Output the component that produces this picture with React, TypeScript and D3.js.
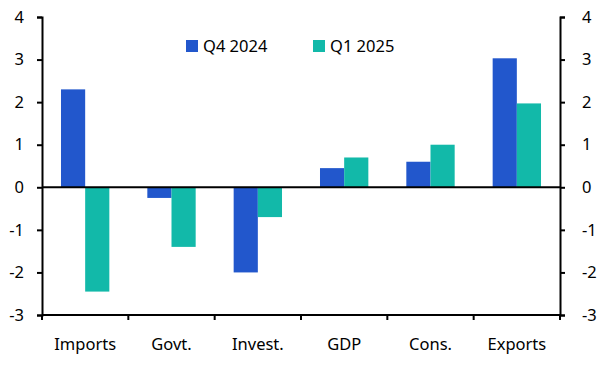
import React, { useEffect, useRef } from "react";
import * as d3 from "d3";

const categories = ["Imports", "Govt.", "Invest.", "GDP", "Cons.", "Exports"];
const seriesNames = ["Q4 2024", "Q1 2025"];
const q4_2024 = [2.3, -0.25, -2.0, 0.45, 0.6, 3.03];
const q1_2025 = [-2.45, -1.4, -0.7, 0.7, 1.0, 1.97];
const yTicks = [-3, -2, -1, 0, 1, 2, 3, 4];
const colors = ["#2257CC", "#12B9A9"];

const W = 609;
const H = 370;
const FONT = "'Noto Sans', sans-serif";

export default function App() {
  const ref = useRef<SVGSVGElement>(null);

  useEffect(() => {
    const svg = d3.select(ref.current);
    svg.selectAll("*").remove();

    const left = 42, right = 560, top = 17, bottom = 315;

    const x = d3.scaleBand().domain(categories).range([left, right]).padding(0);
    const y = d3.scaleLinear().domain([-3, 4]).range([bottom, top]);
    const barW = x.bandwidth() * 0.28;

    const series = [q4_2024, q1_2025];
    series.forEach((vals, si) => {
      svg
        .append("g")
        .selectAll("rect")
        .data(vals)
        .enter()
        .append("rect")
        .attr("x", (d, i) => x(categories[i])! + x.bandwidth() / 2 - barW + si * barW)
        .attr("y", (d) => y(Math.max(0, d)))
        .attr("width", barW)
        .attr("height", (d) => Math.abs(y(d) - y(0)))
        .attr("fill", colors[si]);
    });

    // zero line
    svg
      .append("line")
      .attr("x1", left)
      .attr("x2", right)
      .attr("y1", y(0))
      .attr("y2", y(0))
      .attr("stroke", "#000")
      .attr("stroke-width", 2);

    const fmt = (d: any) => (d < 0 ? "-" + Math.abs(d) : String(d));

    const yl = svg
      .append("g")
      .attr("transform", `translate(${left},0)`)
      .call(d3.axisLeft(y).tickValues(yTicks).tickFormat(fmt).tickSize(5).tickPadding(13));
    const yr = svg
      .append("g")
      .attr("transform", `translate(${right},0)`)
      .call(d3.axisRight(y).tickValues(yTicks).tickFormat(fmt).tickSize(5).tickPadding(17));
    yr.selectAll("text").attr("text-anchor", "start");

    const xa = svg
      .append("g")
      .attr("transform", `translate(0,${bottom})`)
      .call(
        d3
          .axisBottom(x)
          .tickSize(0)
          .tickPadding(23)
      );
    // category boundary ticks
    svg
      .append("g")
      .selectAll("line")
      .data(d3.range(categories.length + 1))
      .enter()
      .append("line")
      .attr("x1", (i) => left + i * x.bandwidth())
      .attr("x2", (i) => left + i * x.bandwidth())
      .attr("y1", bottom)
      .attr("y2", bottom + 5)
      .attr("stroke", "#000")
      .attr("stroke-width", 2);

    [yl, yr, xa].forEach((g) => {
      g.selectAll(".domain").attr("stroke", "#000").attr("stroke-width", 2);
      g.selectAll(".tick line").attr("stroke", "#000").attr("stroke-width", 2);
      g.selectAll("text")
        .attr("fill", "#000")
        .style("font-family", FONT)
        .style("font-size", "16.5px");
    });
    xa.select(".domain").attr("d", `M${left},0H${right}`);

    // legend
    const legX = [186, 313];
    seriesNames.forEach((name, i) => {
      const g = svg.append("g").attr("transform", `translate(${legX[i]},40)`);
      g.append("rect").attr("width", 12).attr("height", 12).attr("fill", colors[i]);
      g.append("text")
        .attr("x", 17)
        .attr("y", 6)
        .attr("dy", "0.35em")
        .attr("fill", "#000")
        .style("font-family", FONT)
        .style("font-size", "16.5px")
        .text(name);
    });
  }, []);

  return (
    <svg
      ref={ref}
      width={W}
      height={H}
      style={{ position: "absolute", left: 0, top: 0, background: "#fff" }}
    />
  );
}
